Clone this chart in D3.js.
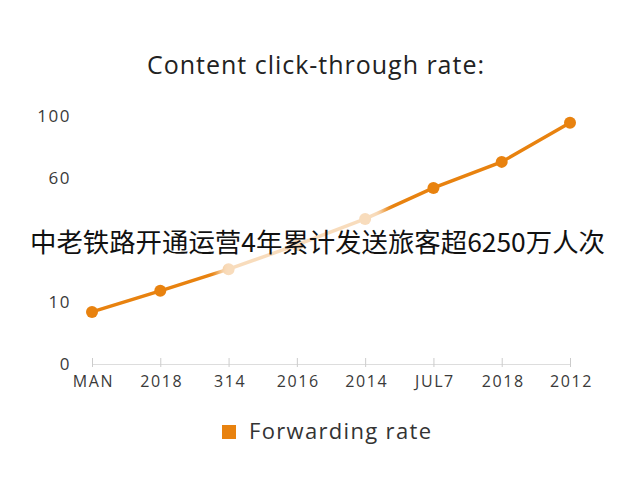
<!DOCTYPE html>
<html>
<head>
<meta charset="utf-8">
<script src="https://cdn.jsdelivr.net/npm/d3@7"></script>
<style>
  body { margin: 0; background: #fff; }
  svg { display: block; }
</style>
</head>
<body>
<svg id="chart" width="640" height="480"></svg>
<script>
// categories along the bottom (the duplicate 2018 is in the source)
const categories = ["MAN", "2018", "314", "2016", "2014", "JUL7", "2018", "2012"];
// y axis uses evenly spaced slots with these labels
const yTickSlots = [0, 1, 3, 4];
const yTickLabels = ["0", "10", "60", "100"];
// series values, in slot units
const forwardingRate = [0.84, 1.18, 1.53, 1.92, 2.34, 2.84, 3.26, 3.89];

const svg = d3.select("#chart");
const orange = "#e8820f";

const x = d3.scalePoint()
  .domain(d3.range(categories.length))
  .range([92, 570]);
const y = d3.scaleLinear()
  .domain([0, 4])
  .range([364, 116]);

// title
svg.append("text")
  .attr("x", 147).attr("y", 74)
  .attr("textLength", 337)
  .attr("lengthAdjust", "spacing")
  .style("font-family", "Open Sans, sans-serif")
  .style("font-size", "25px")
  .style("fill", "#222")
  .text("Content click-through rate:");

// x axis
const xAxis = d3.axisBottom(x)
  .tickSize(0)
  .tickFormat(i => categories[i]);
const gx = svg.append("g")
  .attr("transform", "translate(0,364)")
  .call(xAxis);
gx.select(".domain").attr("stroke", "#ddd").attr("stroke-width", 1.2);
gx.selectAll(".tick line").remove();
gx.selectAll(".tick").append("line")
  .attr("y1", -6).attr("y2", 3)
  .attr("stroke", "#ccc");
gx.selectAll(".tick text")
  .attr("y", 12)
  .attr("dx", "1px")
  .style("font-family", "Open Sans, sans-serif")
  .style("font-size", "16px")
  .style("letter-spacing", "1.6px")
  .style("fill", "#3a3a3a");

// y axis labels only
const yAxis = d3.axisLeft(y)
  .tickValues(yTickSlots)
  .tickSize(0)
  .tickFormat((d, i) => yTickLabels[i]);
const gy = svg.append("g")
  .attr("transform", "translate(71,0)")
  .call(yAxis);
gy.select(".domain").remove();
gy.selectAll(".tick text")
  .attr("x", 0)
  .attr("dy", "0.35em")
  .style("font-family", "Open Sans, sans-serif")
  .style("font-size", "17px")
  .style("letter-spacing", "1.5px")
  .style("fill", "#3a3a3a");

// line and points
const line = d3.line()
  .x((d, i) => x(i))
  .y(d => y(d));
svg.append("path")
  .datum(forwardingRate)
  .attr("fill", "none")
  .attr("stroke", orange)
  .attr("stroke-width", 3.4)
  .attr("d", line);
svg.selectAll("circle.pt")
  .data(forwardingRate)
  .join("circle")
  .attr("class", "pt")
  .attr("cx", (d, i) => x(i))
  .attr("cy", d => y(d))
  .attr("r", 6)
  .attr("fill", orange);

// soft white wash behind the overlay caption
const defs = svg.append("defs");
defs.append("filter").attr("id", "soft")
  .append("feGaussianBlur").attr("stdDeviation", 4);
svg.append("rect")
  .attr("x", 218).attr("y", 195)
  .attr("width", 166).attr("height", 90)
  .attr("fill", "#fff")
  .attr("opacity", 0.72)
  .attr("filter", "url(#soft)");

// overlay caption
svg.append("text")
  .attr("x", 30).attr("y", 252)
  .attr("textLength", 575)
  .attr("lengthAdjust", "spacingAndGlyphs")
  .style("font-family", "Noto Sans CJK SC, sans-serif")
  .style("font-size", "26px")
  .style("fill", "#111")
  .text("中老铁路开通运营4年累计发送旅客超6250万人次");

// legend
svg.append("rect")
  .attr("x", 222).attr("y", 425)
  .attr("width", 14).attr("height", 14)
  .attr("fill", orange);
svg.append("text")
  .attr("x", 249).attr("y", 439)
  .attr("textLength", 182)
  .attr("lengthAdjust", "spacing")
  .style("font-family", "Open Sans, sans-serif")
  .style("font-size", "22px")
  .style("fill", "#333")
  .text("Forwarding rate");
</script>
</body>
</html>
